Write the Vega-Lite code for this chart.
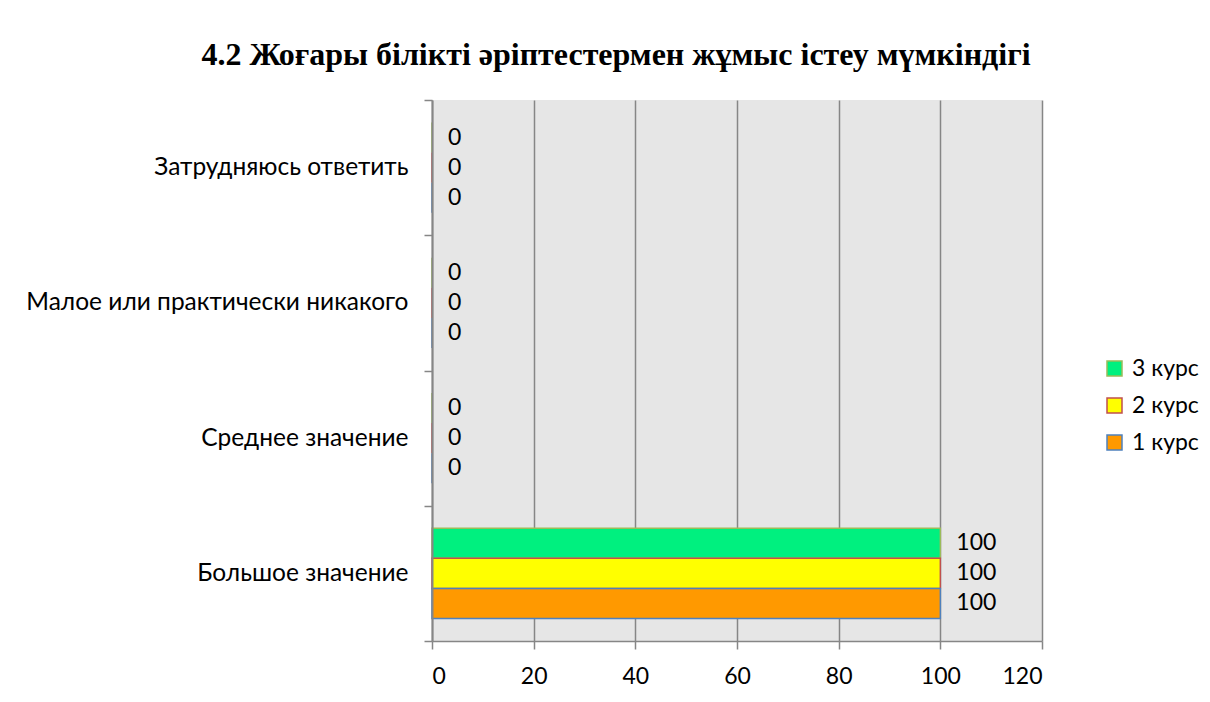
{
  "$schema": "https://vega.github.io/schema/vega-lite/v6.json",
  "width": 610,
  "height": 541,
  "autosize": {"type": "none"},
  "padding": {"left": 432, "top": 100, "right": 168, "bottom": 61},
  "background": "white",
  "title": {
    "text": "4.2 Жоғары білікті әріптестермен жұмыс істеу мүмкіндігі",
    "font": "Liberation Serif",
    "fontSize": 32,
    "fontWeight": "bold",
    "color": "black",
    "anchor": "middle",
    "dx": -121,
    "offset": 15
  },
  "data": {
    "values": [
      {"cat": "Затрудняюсь ответить", "course": "3 курс", "value": 0},
      {"cat": "Затрудняюсь ответить", "course": "2 курс", "value": 0},
      {"cat": "Затрудняюсь ответить", "course": "1 курс", "value": 0},
      {"cat": "Малое или практически никакого", "course": "3 курс", "value": 0},
      {"cat": "Малое или практически никакого", "course": "2 курс", "value": 0},
      {"cat": "Малое или практически никакого", "course": "1 курс", "value": 0},
      {"cat": "Среднее значение ", "course": "3 курс", "value": 0},
      {"cat": "Среднее значение ", "course": "2 курс", "value": 0},
      {"cat": "Среднее значение ", "course": "1 курс", "value": 0},
      {"cat": "Большое значение", "course": "3 курс", "value": 100},
      {"cat": "Большое значение", "course": "2 курс", "value": 100},
      {"cat": "Большое значение", "course": "1 курс", "value": 100}
    ]
  },
  "encoding": {
    "y": {
      "field": "cat",
      "type": "nominal",
      "sort": ["Затрудняюсь ответить", "Малое или практически никакого", "Среднее значение ", "Большое значение"],
      "scale": {"paddingInner": 0, "paddingOuter": 0},
      "axis": {
        "title": null,
        "zindex": 1,
        "tickBand": "extent",
        "tickSize": 8,
        "tickColor": "#868686",
        "tickWidth": 1.5,
        "domainColor": "#868686",
        "domainWidth": 2,
        "labelFont": "Lato",
        "labelFontSize": 24.5,
        "labelColor": "black",
        "labelPadding": 16,
        "labelLimit": 500
      }
    },
    "yOffset": {
      "field": "course",
      "type": "nominal",
      "sort": ["3 курс", "2 курс", "1 курс"],
      "scale": {"paddingInner": 0, "paddingOuter": 0.75}
    },
    "x": {
      "field": "value",
      "type": "quantitative",
      "scale": {"domain": [0, 120], "nice": false},
      "axis": {
        "title": null,
        "values": [0, 20, 40, 60, 80, 100, 120],
        "grid": true,
        "gridColor": "#868686",
        "gridWidth": 1.5,
        "tickColor": "#868686",
        "tickWidth": 1.5,
        "tickSize": 8,
        "domainColor": "#868686",
        "domainWidth": 1.5,
        "labelFont": "Lato",
        "labelFontSize": 23,
        "labelColor": "black",
        "labelPadding": 16
      }
    }
  },
  "layer": [
    {
      "mark": {"type": "bar", "strokeWidth": 1.5},
      "encoding": {
        "fill": {
          "field": "course",
          "type": "nominal",
          "scale": {"domain": ["3 курс", "2 курс", "1 курс"], "range": ["#00F07F", "#FFFF00", "#FF9900"]},
          "legend": {
            "title": null,
            "orient": "none",
            "legendX": 671,
            "legendY": 257,
            "symbolType": "square",
            "symbolSize": 225,
            "symbolStrokeWidth": 1.5,
            "labelFont": "Lato",
            "labelFontSize": 23,
            "labelColor": "black",
            "rowPadding": 13,
            "labelOffset": 6
          }
        },
        "stroke": {
          "field": "course",
          "type": "nominal",
          "scale": {"domain": ["3 курс", "2 курс", "1 курс"], "range": ["#9BBB59", "#C0504D", "#4F81BD"]},
          "legend": {
            "title": null,
            "orient": "none",
            "legendX": 671,
            "legendY": 257,
            "symbolType": "square",
            "symbolSize": 225,
            "symbolStrokeWidth": 1.5,
            "labelFont": "Lato",
            "labelFontSize": 23,
            "labelColor": "black",
            "rowPadding": 13,
            "labelOffset": 6
          }
        }
      }
    },
    {
      "mark": {"type": "text", "align": "left", "baseline": "middle", "dx": 16, "font": "Lato", "fontSize": 23, "color": "black"},
      "encoding": {"text": {"field": "value", "type": "quantitative", "format": "d"}}
    }
  ],
  "config": {"view": {"fill": "#e6e6e6", "stroke": null}}
}
